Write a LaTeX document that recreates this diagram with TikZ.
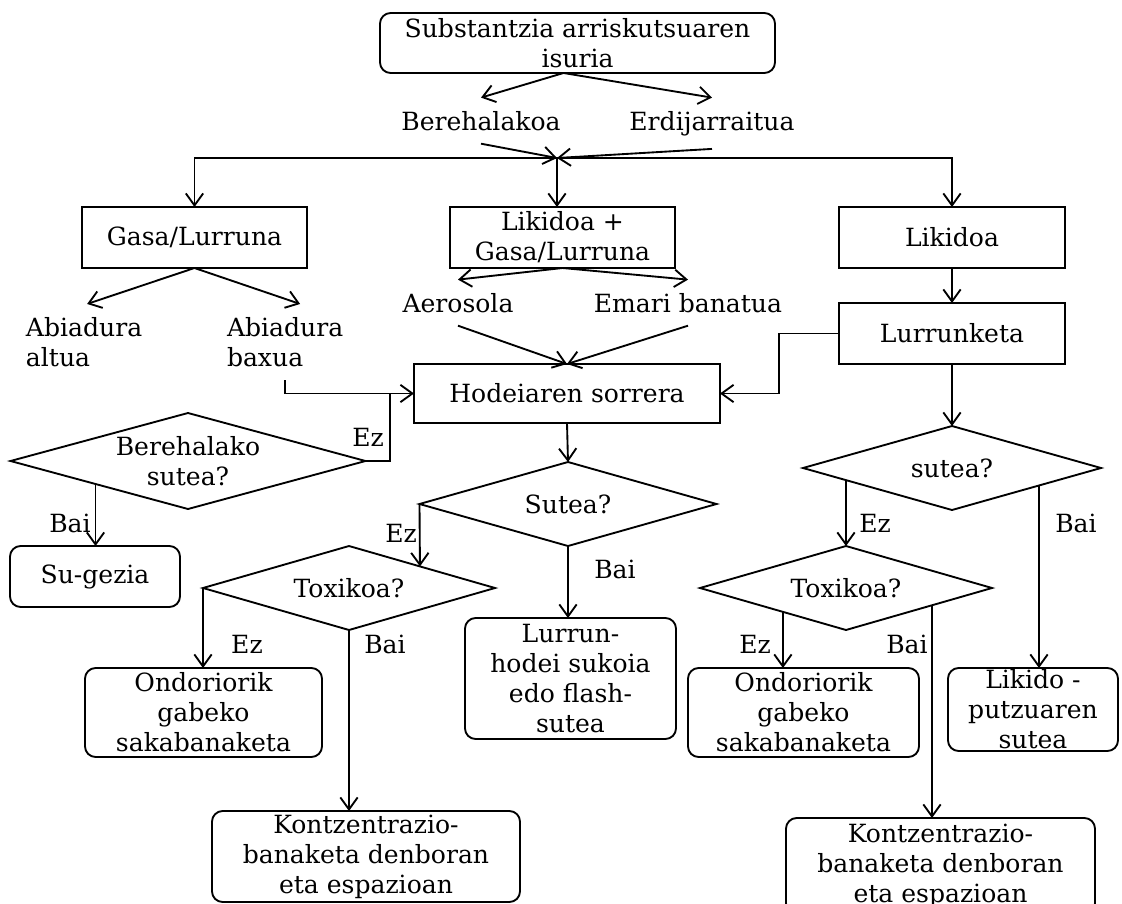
\documentclass[tikz,border=0pt]{standalone}
\usepackage{fontspec}
\setmainfont{DejaVu Serif}
\usetikzlibrary{arrows.meta,shapes.geometric,calc}
\begin{document}
\begin{tikzpicture}[x=0.75pt,y=-0.75pt,line width=1.4pt,
  every node/.style={font=\fontsize{18.8pt}{22.5pt}\selectfont, outer sep=0pt},
  arr/.style={-{Straight Barb[length=9pt,width=13pt,line width=1.4pt]}},
  sz/.style 2 args={minimum width=#1*0.75pt, minimum height=#2*0.75pt},
  sbox/.style={draw, rectangle, inner sep=0pt, align=center},
  rbox/.style={sbox, rounded corners=8pt},
  dia/.style={draw, diamond, inner sep=0pt, align=center},
  lbl/.style={inner xsep=0pt, inner ysep=10pt, align=center},
  yn/.style={inner sep=0pt, anchor=base},
]
\fill[white] (0,0) rectangle (1122,904);
\useasboundingbox (0,0) rectangle (1122,904);

% top of the tree
\node[rbox, sz={395}{60}] (top) at (577.5,43) {Substantzia arriskutsuaren\\isuria};
\node[lbl, anchor=base] (ber) at (481,130) {Berehalakoa};
\node[lbl, anchor=base] (erd) at (712,130) {Erdijarraitua};
\coordinate (hub) at (557,158);

% three phases
\node[sbox, sz={225}{61}] (gas) at (194.5,237.5) {Gasa/Lurruna};
\node[sbox, sz={225}{61}] (lkg) at (562.5,237.5) {Likidoa +\\Gasa/Lurruna};
\node[sbox, sz={226}{61}] (liq) at (952,237.5) {Likidoa};
\node[sbox, sz={226}{61}] (lrk) at (952,333.5) {Lurrunketa};

\node[lbl, anchor=west, align=left] (ab1) at (26,342) {Abiadura\\altua};
\node[lbl, anchor=west, align=left] (ab2) at (227,342) {Abiadura\\baxua};
\node[lbl, anchor=base] (aer) at (458,312) {Aerosola};
\node[lbl, anchor=base] (ema) at (688,312) {Emari banatua};

\node[sbox, sz={306}{59}] (hod) at (567,393.5) {Hodeiaren sorrera};
\coordinate (ezj) at (390,393.5);

% decisions
\node[dia, sz={355}{96}, aspect=3.7] (b1) at (188,461) {Berehalako\\sutea?};
\node[rbox, sz={170}{61}] (sug) at (95,576.5) {Su-gezia};
\node[dia, sz={297}{84}, aspect=3.54] (s1) at (568,504) {Sutea?};
\node[dia, sz={292}{84}, aspect=3.48] (t1) at (349,588) {Toxikoa?};
\node[dia, sz={298}{84}, aspect=3.55] (s2) at (952,468) {sutea?};
\node[dia, sz={292}{84}, aspect=3.48] (t2) at (846,588) {Toxikoa?};

% outcomes
\node[rbox, sz={211}{121}] (lur) at (570.5,678.5) {Lurrun-\\hodei sukoia\\edo flash-\\sutea};
\node[rbox, sz={237}{89}] (on1) at (203.5,712.5) {Ondoriorik\\gabeko\\sakabanaketa};
\node[rbox, sz={308}{91}] (kn1) at (366,856.5) {Kontzentrazio-\\banaketa denboran\\eta espazioan};
\node[rbox, sz={231}{89}] (on2) at (803.5,712.5) {Ondoriorik\\gabeko\\sakabanaketa};
\node[rbox, sz={170}{83}] (lik) at (1033,709.5) {Likido -\\putzuaren\\sutea};
\node[rbox, sz={309}{96}] (kn2) at (940.5,866) {Kontzentrazio-\\banaketa denboran\\eta espazioan};

% branch labels
\node[yn] at (368,446) {Ez};
\node[yn] at (70,532) {Bai};
\node[yn] at (401,542) {Ez};
\node[yn] at (615,578) {Bai};
\node[yn] at (247,653) {Ez};
\node[yn] at (385,653) {Bai};
\node[yn] at (875,532) {Ez};
\node[yn] at (1076,532) {Bai};
\node[yn] at (755,653) {Ez};
\node[yn] at (907,653) {Bai};

% points on diamond edges where branches leave
\path ($(b1.west)!0.479!(b1.south)$) coordinate (b1y);
\path ($(t1.north)!0.486!(t1.east)$) coordinate (t1in);
\path ($(s2.west)!0.289!(s2.south)$) coordinate (s2n);
\path ($(s2.south)!0.584!(s2.east)$) coordinate (s2y);
\path ($(t2.west)!0.568!(t2.south)$) coordinate (t2n);
\path ($(t2.south)!0.589!(t2.east)$) coordinate (t2y);

% connectors
\draw[arr] ($(top.south)+(-14,0)$) -- (ber.north);
\draw[arr] ($(top.south)+(-14,0)$) -- (erd.north);
\draw[arr] (ber.south) -- (hub);
\draw[arr] (erd.south) -- (hub);
\draw[arr] (hub) -| (gas.north);
\draw[arr] (hub) -| (liq.north);
\draw[arr] (hub) -- (hub |- lkg.north);

\draw[arr] (gas.south) -- ($(ab1.north)+(3,0)$);
\draw[arr] (gas.south) -- ($(ab2.north)+(15,0)$);
\draw[arr] (lkg.south) -- (aer.north);
\draw[arr] (lkg.south) -- (ema.north);
\draw[arr] (liq.south) -- (lrk.north);

\draw[arr] (aer.south) -- (hod.north);
\draw[arr] (ema.south) -- (hod.north);
\draw[arr] (ab2.south) |- (hod.west);
\draw (b1.east) -| (ezj);
\draw[arr] (lrk.west) -- ++(-60,0) |- (hod.east);

\draw[arr] (b1y) -- (b1y |- sug.north);
\draw[arr] (hod.south) -- (s1.north);
\draw[arr] (s1.west) -- (t1in);
\draw[arr] (s1.south) -- (s1.south |- lur.north);
\draw[arr] (t1.west) -- (t1.west |- on1.north);
\draw[arr] (t1.south) -- (t1.south |- kn1.north);

\draw[arr] (lrk.south) -- (s2.north);
\draw[arr] (s2n) -- (t2.north);
\draw[arr] (s2y) -- (s2y |- lik.north);
\draw[arr] (t2n) -- (t2n |- on2.north);
\draw[arr] (t2y) -- (t2y |- kn2.north);
\end{tikzpicture}
\end{document}
